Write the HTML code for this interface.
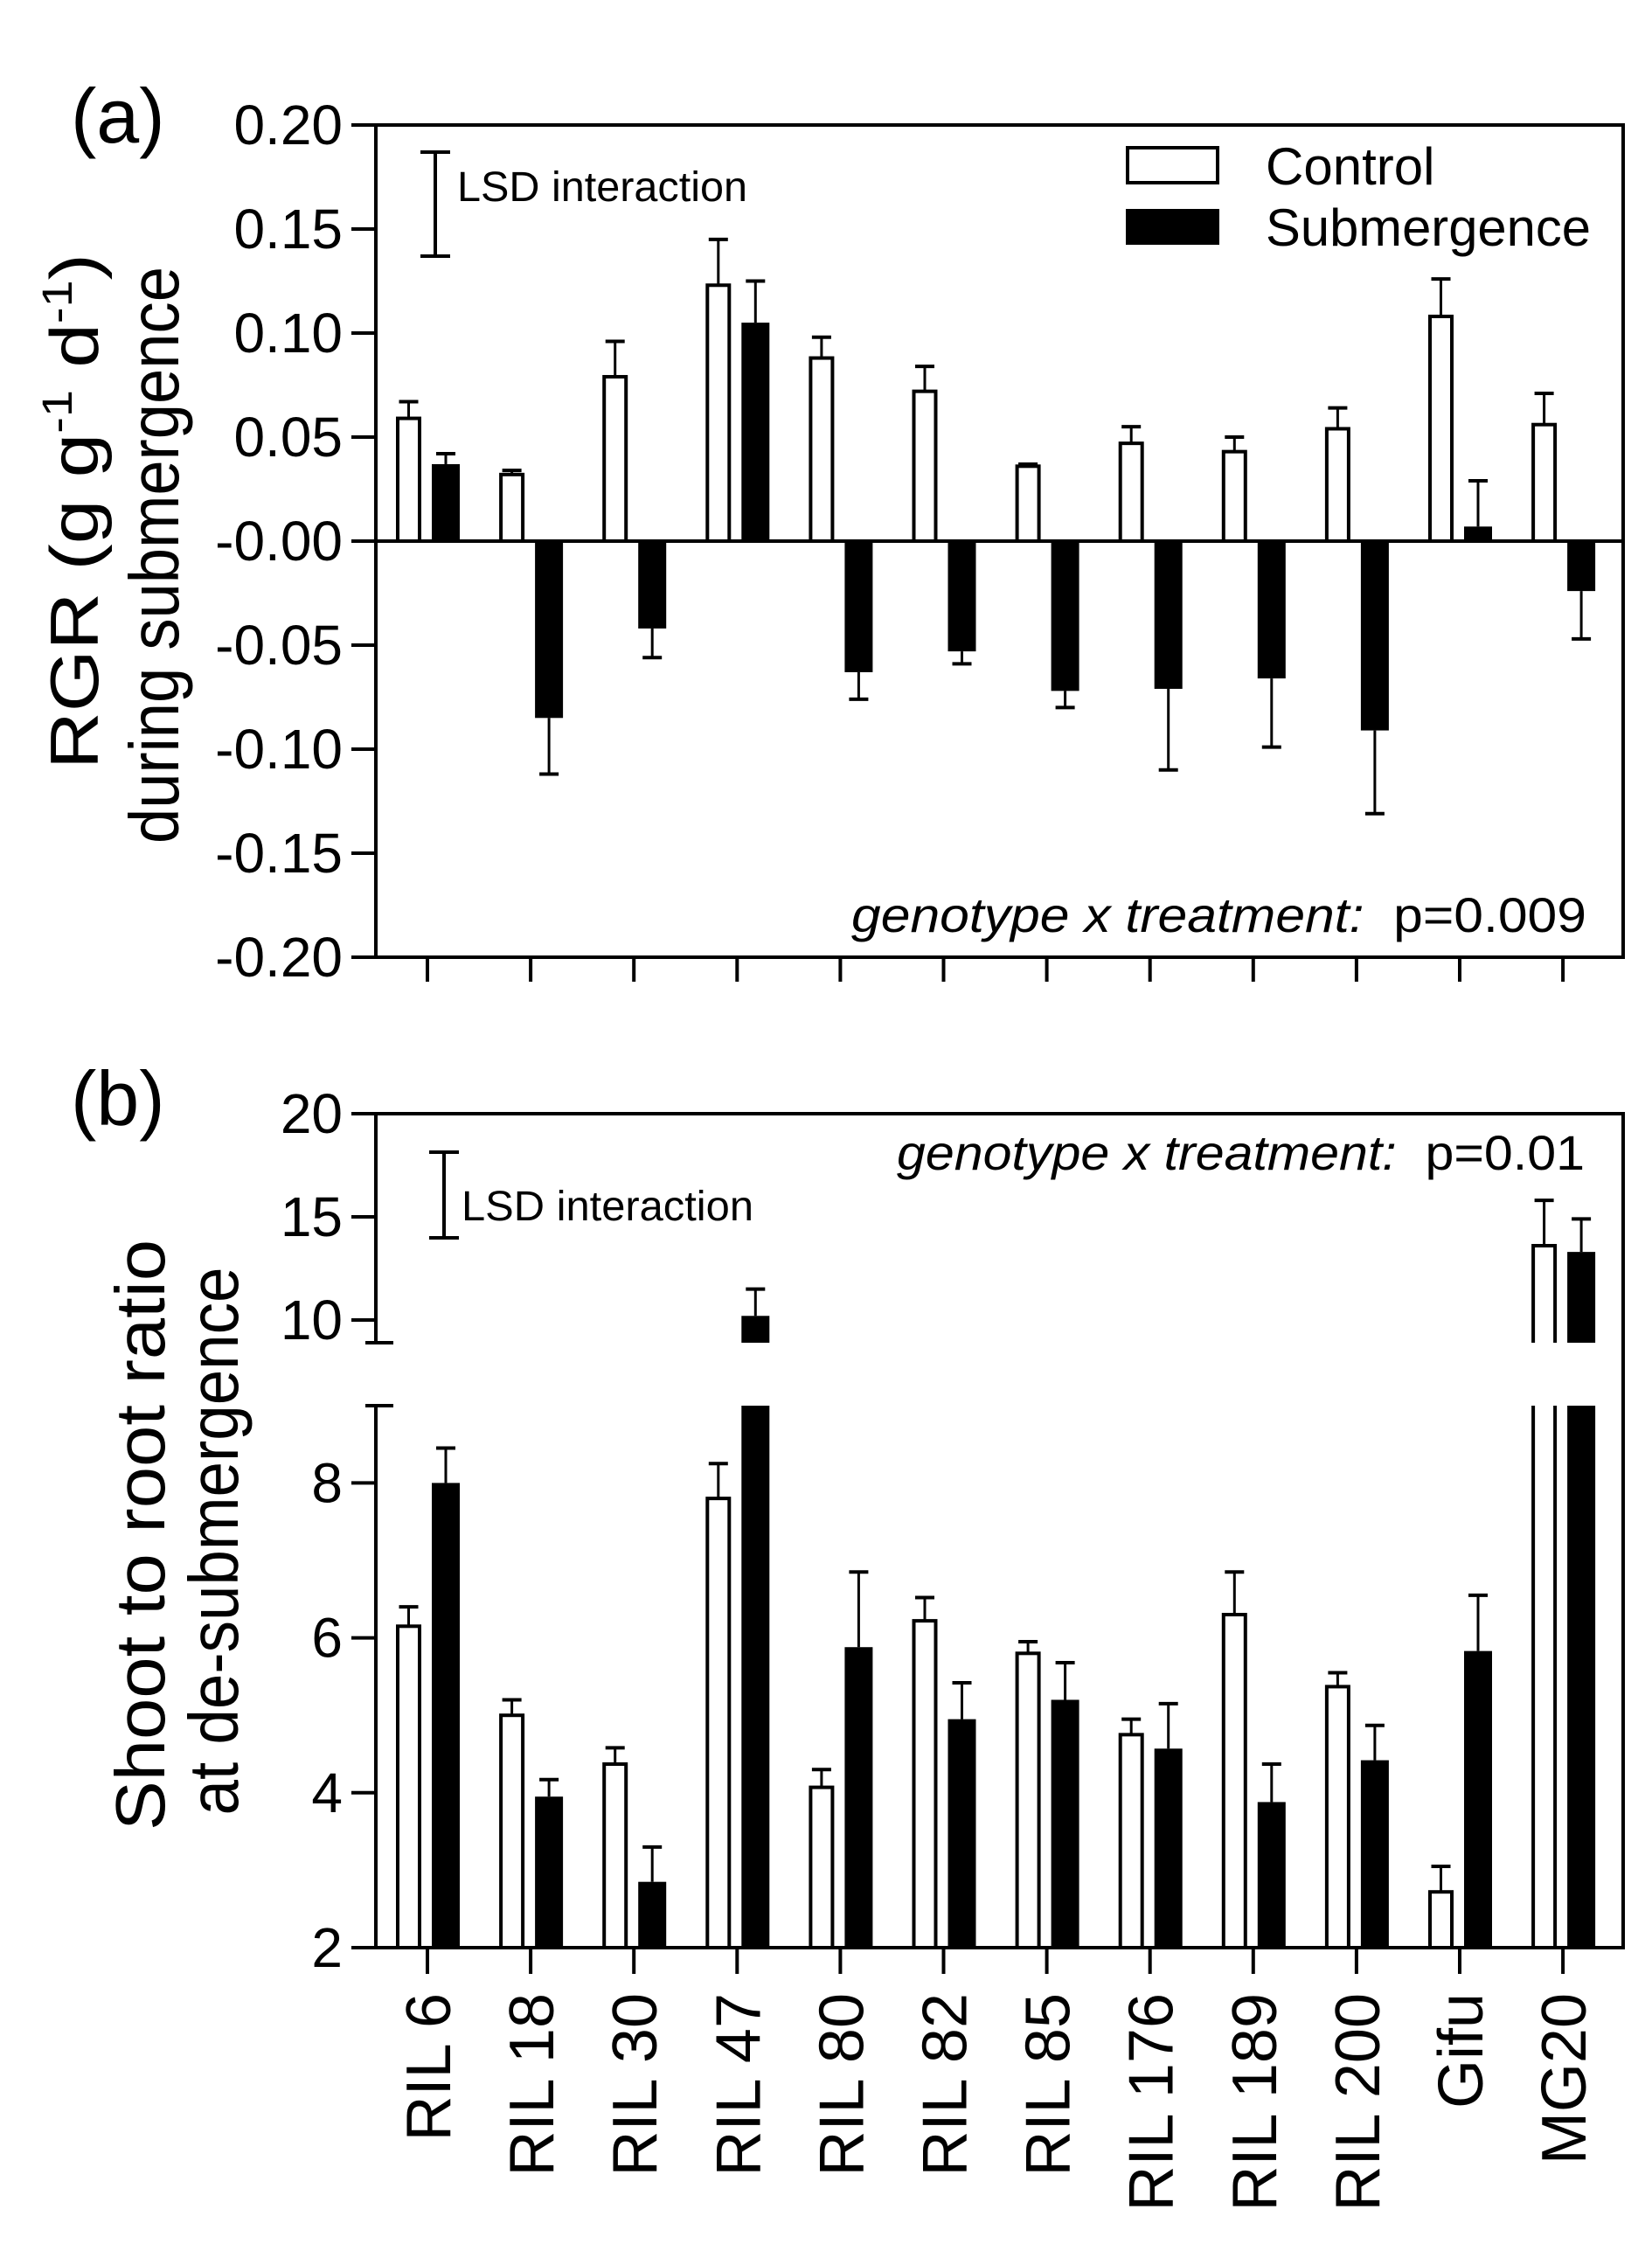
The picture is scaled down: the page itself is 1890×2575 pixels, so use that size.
<!DOCTYPE html>
<html><head><meta charset="utf-8"><style>
html,body{margin:0;padding:0;background:#fff;}
svg{display:block;font-family:"Liberation Sans",Arial,sans-serif;}
</style></head><body>
<svg id="fig" width="1890" height="2575" viewBox="0 0 1890 2575" xmlns="http://www.w3.org/2000/svg">
<g id="pa"></g>
<g id="pb"></g>
</svg>
<script>
const categories = ["RIL 6","RIL 18","RIL 30","RIL 47","RIL 80","RIL 82","RIL 85","RIL 176","RIL 189","RIL 200","Gifu","MG20"];
const rgrControl = [0.059,0.032,0.079,0.123,0.088,0.072,0.036,0.047,0.043,0.054,0.108,0.056];
const rgrControlErr = [0.008,0.002,0.017,0.022,0.010,0.012,0.001,0.008,0.007,0.010,0.018,0.015];
const rgrSub = [0.037,-0.085,-0.042,0.105,-0.063,-0.053,-0.072,-0.071,-0.066,-0.091,0.007,-0.024];
const rgrSubErr = [0.005,0.027,0.014,0.020,0.013,0.006,0.008,0.039,0.033,0.040,0.022,0.023];
const ratioControl = [6.15,5.0,4.37,7.8,4.07,6.22,5.8,4.75,6.3,5.37,2.72,13.6];
const ratioControlErr = [0.25,0.2,0.21,0.45,0.23,0.3,0.15,0.2,0.55,0.18,0.33,2.2];
const ratioSub = [8.0,3.95,2.85,10.2,5.88,4.95,5.2,4.57,3.88,4.42,5.83,13.3];
const ratioSubErr = [0.45,0.22,0.45,1.3,0.97,0.47,0.48,0.58,0.49,0.45,0.72,1.6];
const ticksA = [0.20,0.15,0.10,0.05,0.00,-0.05,-0.10,-0.15,-0.20];
const tickLabelsA = ["0.20","0.15","0.10","0.05","-0.00","-0.05","-0.10","-0.15","-0.20"];
const ticksBUpper = [20,15,10];
const ticksBLower = [8,6,4,2];

const NS="http://www.w3.org/2000/svg";
function mk(parent,tag,attrs,text){const e=document.createElementNS(NS,tag);for(const k in attrs)e.setAttribute(k,attrs[k]);if(text!==undefined)e.textContent=text;parent.appendChild(e);return e;}
const L=430,R=1857;
function xc(i){return 489+i*118.1;}
const aTop=143,aBot=1095;
function ya(v){return aTop+(0.20-v)/0.40*(aBot-aTop);}
const bTop=1274,bBot=2228,breakUp=1536,breakLo=1608;
function ybU(v){return 1510-(v-10)*23.6;}
function ybL(v){return bBot-(v-2)*88.6;}
function yb(v){return v>9.5?ybU(v):ybL(v);}
const SW=4;

// ---------- Panel A ----------
const pa=document.getElementById('pa');
let e;
e=mk(pa,'rect',{x:L,y:aTop,width:R-L,height:aBot-aTop,fill:'none',stroke:'#000','stroke-width':SW});

ticksA.forEach((t,i)=>{
  e=mk(pa,'line',{x1:402,x2:L,y1:ya(t),y2:ya(t),stroke:'#000','stroke-width':SW});
  
  e=mk(pa,'text',{x:392,y:ya(t)+22,'text-anchor':'end','font-size':64},tickLabelsA[i]);
  
});
categories.forEach((c,i)=>{
  e=mk(pa,'line',{x1:xc(i),x2:xc(i),y1:aBot,y2:aBot+28,stroke:'#000','stroke-width':SW});
  
});
function barA(i,v,err,ctrl){
  const x0=ctrl?xc(i)-34:xc(i)+5, w=ctrl?25:32;
  const y0=ya(0), y1=ya(v);
  const ey=ya(v+(v>=0?err:-err));
  const cx=x0+w/2;
  e=mk(pa,'line',{x1:cx,x2:cx,y1:y1,y2:ey,stroke:'#000','stroke-width':3});
  
  e=mk(pa,'line',{x1:cx-11,x2:cx+11,y1:ey,y2:ey,stroke:'#000','stroke-width':4});
  
  e=mk(pa,'rect',{x:x0,y:Math.min(y0,y1),width:w,height:Math.abs(y1-y0),fill:ctrl?'#fff':'#000',stroke:'#000','stroke-width':ctrl?SW:0});
  
}
categories.forEach((c,i)=>{barA(i,rgrControl[i],rgrControlErr[i],true);barA(i,rgrSub[i],rgrSubErr[i],false);});
e=mk(pa,'line',{x1:L,x2:R,y1:ya(0),y2:ya(0),stroke:'#000','stroke-width':SW});

e=mk(pa,'path',{d:'M481 174H515M498 174V293M481 293H515',stroke:'#000','stroke-width':4,fill:'none'});

e=mk(pa,'text',{x:523,y:230,'font-size':48,textLength:332,lengthAdjust:'spacingAndGlyphs'},'LSD interaction');

e=mk(pa,'rect',{x:1290,y:169,width:103,height:40,fill:'#fff',stroke:'#000','stroke-width':SW});

e=mk(pa,'text',{x:1448,y:211,'font-size':60},'Control');

e=mk(pa,'rect',{x:1288,y:239,width:107,height:41,fill:'#000'});

e=mk(pa,'text',{x:1448,y:281,'font-size':60,textLength:372,lengthAdjust:'spacingAndGlyphs'},'Submergence');

e=mk(pa,'text',{x:974,y:1066,'font-size':56,textLength:841,lengthAdjust:'spacingAndGlyphs'});

mk(e,'tspan',{'font-style':'italic'},'genotype x treatment:');
mk(e,'tspan',{},'\u00a0 p=0.009');
e=mk(pa,'text',{x:81,y:163,'font-size':88},'(a)');

e=mk(pa,'text',{x:0,y:0,'font-size':78,'text-anchor':'middle',textLength:590,lengthAdjust:'spacingAndGlyphs',transform:'translate(112,585) rotate(-90)'});

mk(e,'tspan',{},'RGR (g g');mk(e,'tspan',{dy:-30,'font-size':48},'-1');mk(e,'tspan',{dy:30},' d');mk(e,'tspan',{dy:-30,'font-size':48},'-1');mk(e,'tspan',{dy:30},')');
e=mk(pa,'text',{x:0,y:0,'font-size':80,'text-anchor':'middle',textLength:660,lengthAdjust:'spacingAndGlyphs',transform:'translate(204,635) rotate(-90)'},'during submergence');


// ---------- Panel B ----------
const pb=document.getElementById('pb');
e=mk(pb,'path',{d:`M${L} ${breakUp}V${bTop}H${R}V${bBot}H${L}V${breakLo}`,fill:'none',stroke:'#000','stroke-width':SW});

e=mk(pb,'path',{d:`M418 ${breakUp}H450M418 ${breakLo}H450`,stroke:'#000','stroke-width':SW});

ticksBUpper.forEach(t=>{
  e=mk(pb,'line',{x1:402,x2:L,y1:ybU(t),y2:ybU(t),stroke:'#000','stroke-width':SW});
  
  e=mk(pb,'text',{x:392,y:ybU(t)+22,'text-anchor':'end','font-size':64},String(t));
  
});
ticksBLower.forEach(t=>{
  e=mk(pb,'line',{x1:402,x2:L,y1:ybL(t),y2:ybL(t),stroke:'#000','stroke-width':SW});
  
  e=mk(pb,'text',{x:392,y:ybL(t)+22,'text-anchor':'end','font-size':64},String(t));
  
});
categories.forEach((c,i)=>{
  e=mk(pb,'line',{x1:xc(i),x2:xc(i),y1:bBot,y2:bBot+30,stroke:'#000','stroke-width':SW});
  
  e=mk(pb,'text',{x:0,y:0,'font-size':72,'text-anchor':'end',transform:`translate(${xc(i)+26},2280) rotate(-90)`},c);
  
});
function barB(i,v,err,ctrl){
  const x0=ctrl?xc(i)-34:xc(i)+5, w=ctrl?25:32;
  const cx=x0+w/2;
  const yt=yb(v), ey=yb(v+err);
  e=mk(pb,'line',{x1:cx,x2:cx,y1:yt,y2:ey,stroke:'#000','stroke-width':3});
  
  e=mk(pb,'line',{x1:cx-11,x2:cx+11,y1:ey,y2:ey,stroke:'#000','stroke-width':4});
  
  const g=mk(pb,'g',{});
  
  
  if(v<=9.5){
    if(ctrl) mk(g,'rect',{x:x0,y:yt,width:w,height:bBot-yt,fill:'#fff',stroke:'#000','stroke-width':SW});
    else mk(g,'rect',{x:x0,y:yt,width:w,height:bBot-yt,fill:'#000'});
  } else {
    if(ctrl){
      mk(g,'path',{d:`M${x0} ${breakLo}V${bBot}M${x0+w} ${breakLo}V${bBot}`,stroke:'#000','stroke-width':SW,fill:'none'});
      mk(g,'path',{d:`M${x0} ${breakUp}V${yt}H${x0+w}V${breakUp}`,stroke:'#000','stroke-width':SW,fill:'#fff'});
    } else {
      mk(g,'rect',{x:x0,y:breakLo,width:w,height:bBot-breakLo,fill:'#000'});
      mk(g,'rect',{x:x0,y:yt,width:w,height:breakUp-yt,fill:'#000'});
    }
  }
}
categories.forEach((c,i)=>{barB(i,ratioControl[i],ratioControlErr[i],true);barB(i,ratioSub[i],ratioSubErr[i],false);});
e=mk(pb,'line',{x1:L,x2:R,y1:bBot,y2:bBot,stroke:'#000','stroke-width':SW});

e=mk(pb,'path',{d:'M491 1318H525M508 1318V1416M491 1416H525',stroke:'#000','stroke-width':4,fill:'none'});

e=mk(pb,'text',{x:528,y:1396,'font-size':48,textLength:334,lengthAdjust:'spacingAndGlyphs'},'LSD interaction');

e=mk(pb,'text',{x:1026,y:1338,'font-size':56,textLength:787,lengthAdjust:'spacingAndGlyphs'});

mk(e,'tspan',{'font-style':'italic'},'genotype x treatment:');
mk(e,'tspan',{},'\u00a0 p=0.01');
e=mk(pb,'text',{x:81,y:1287,'font-size':88},'(b)');

e=mk(pb,'text',{x:0,y:0,'font-size':80,'text-anchor':'middle',textLength:676,lengthAdjust:'spacingAndGlyphs',transform:'translate(188,1756) rotate(-90)'},'Shoot to root ratio');

e=mk(pb,'text',{x:0,y:0,'font-size':80,'text-anchor':'middle',textLength:627,lengthAdjust:'spacingAndGlyphs',transform:'translate(272,1763) rotate(-90)'},'at de-submergence');

</script>
</body></html>
